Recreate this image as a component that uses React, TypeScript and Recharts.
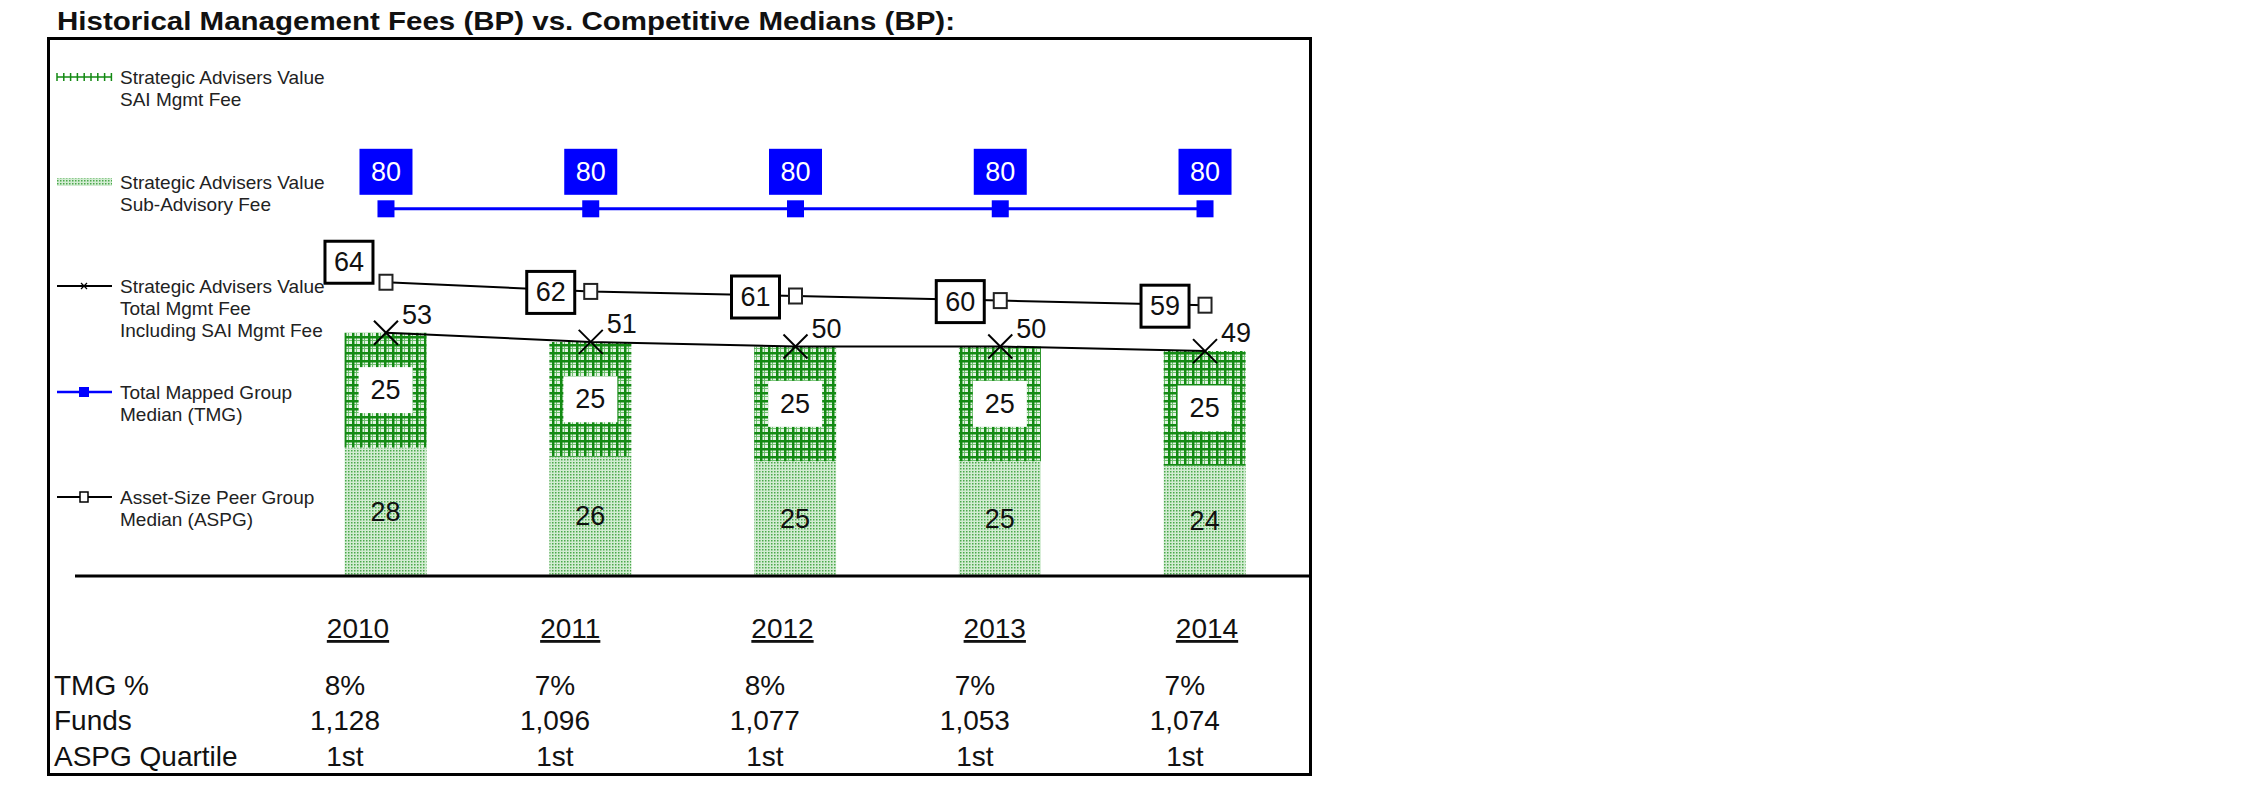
import { Bar, ComposedChart, LabelList, Line, XAxis, YAxis } from "recharts";

const YEARS = ["2010", "2011", "2012", "2013", "2014"];
const SUB_ADVISORY_FEE = [28, 26, 25, 25, 24];
const SAI_MGMT_FEE = [25, 25, 25, 25, 25];
const TOTAL_MGMT_FEE = [53, 51, 50, 50, 49];
const TMG_MEDIAN = [80, 80, 80, 80, 80];
const ASPG_MEDIAN = [64, 62, 61, 60, 59];

const ROW_LABELS = ["TMG %", "Funds", "ASPG Quartile"];
const TMG_PCT = ["8%", "7%", "8%", "7%", "7%"];
const FUNDS = ["1,128", "1,096", "1,077", "1,053", "1,074"];
const ASPG_QUARTILE = ["1st", "1st", "1st", "1st", "1st"];

const LEGEND_TEXT = [
  ["Strategic Advisers Value", "SAI Mgmt Fee"],
  ["Strategic Advisers Value", "Sub-Advisory Fee"],
  ["Strategic Advisers Value", "Total Mgmt Fee", "Including SAI Mgmt Fee"],
  ["Total Mapped Group", "Median (TMG)"],
  ["Asset-Size Peer Group", "Median (ASPG)"],
];

const TITLE = "Historical Management Fees (BP) vs. Competitive Medians (BP):";

const data = YEARS.map((year, i) => ({
  year,
  sub: SUB_ADVISORY_FEE[i],
  sai: SAI_MGMT_FEE[i],
  total: TOTAL_MGMT_FEE[i],
  tmg: TMG_MEDIAN[i],
  aspg: ASPG_MEDIAN[i],
}));

const FONT = '"Liberation Sans", Arial, sans-serif';
const BLUE = "#0000ff";
const GREEN = "#138a13";
const AXIS_Y = 576;
const ROW_OFFSETS = [119, 154, 190];
const LEGEND_BASELINES = [84, 189, 293, 399, 504];

function TableTick(props: any) {
  const { x, y, payload, index } = props;
  const i = index ?? 0;
  const colX = x - 41 + i * 5.2;
  const yearX = x - 28 + i * 7.5;
  const rows = [TMG_PCT, FUNDS, ASPG_QUARTILE];
  return (
    <g fontFamily={FONT} fontSize={28} fill="#111">
      <text x={yearX} y={y + 62} textAnchor="middle" style={{ textDecoration: "underline" }}>
        {payload.value}
      </text>
      {rows.map((row, r) => (
        <text key={r} x={colX} y={y + ROW_OFFSETS[r]} textAnchor="middle">
          {row[i]}
        </text>
      ))}
    </g>
  );
}

function SaiLabel(props: any) {
  const { x, y, width, height, value } = props;
  const cx = x + width / 2;
  const cy = y + height / 2;
  return (
    <g>
      <rect x={cx - 27} y={cy - 23} width={54} height={46} fill="#fff" />
      <text x={cx} y={cy} textAnchor="middle" dominantBaseline="central" fontFamily={FONT} fontSize={27} fill="#111">
        {value}
      </text>
    </g>
  );
}

function SubLabel(props: any) {
  const { x, y, width, height, value } = props;
  return (
    <text x={x + width / 2} y={y + height / 2} textAnchor="middle" dominantBaseline="central" fontFamily={FONT} fontSize={27} fill="#111">
      {value}
    </text>
  );
}

function TmgLabel(props: any) {
  const { x, y, value } = props;
  const cy = y - 37;
  return (
    <g>
      <rect x={x - 26.5} y={cy - 23} width={53} height={46} fill={BLUE} />
      <text x={x} y={cy} textAnchor="middle" dominantBaseline="central" fontFamily={FONT} fontSize={27} fill="#fff">
        {value}
      </text>
    </g>
  );
}

function AspgLabel(props: any) {
  const { x, y, value, index } = props;
  // first box is pushed up-left in the original, the rest sit beside the marker
  const cx = index === 0 ? x - 37 : x - 40;
  const cy = index === 0 ? y - 20 : y + 1;
  return (
    <g>
      <rect x={cx - 24} y={cy - 21} width={48} height={42} fill="#fff" stroke="#000" strokeWidth={3} />
      <text x={cx} y={cy} textAnchor="middle" dominantBaseline="central" fontFamily={FONT} fontSize={27} fill="#111">
        {value}
      </text>
    </g>
  );
}

function TotalLabel(props: any) {
  const { x, y, value } = props;
  return (
    <text x={x + 16} y={y - 9} fontFamily={FONT} fontSize={27} fill="#111">
      {value}
    </text>
  );
}

const tmgDot = (p: any) => (
  <rect key={`tmg-${p.index}`} x={p.cx - 8.5} y={p.cy - 8.5} width={17} height={17} fill={BLUE} />
);

const aspgDot = (p: any) => (
  <rect key={`aspg-${p.index}`} x={p.cx - 6.5} y={p.cy - 7.5} width={13} height={15} fill="#fff" stroke="#222" strokeWidth={2} />
);

const totalDot = (p: any) => (
  <g key={`tot-${p.index}`} stroke="#000" strokeWidth={2}>
    <line x1={p.cx - 12} y1={p.cy - 12} x2={p.cx + 12} y2={p.cy + 12} />
    <line x1={p.cx - 12} y1={p.cy + 12} x2={p.cx + 12} y2={p.cy - 12} />
  </g>
);

function LegendIcon({ kind, y }: { kind: number; y: number }) {
  const x1 = 57;
  const x2 = 112;
  const mid = 84;
  if (kind === 0) {
    const ticks = Array.from({ length: 9 }, (_, k) => x1 + k * 6.8);
    return (
      <g stroke={GREEN} strokeWidth={1.5}>
        <line x1={x1} y1={y} x2={x2} y2={y} />
        {ticks.map((t) => (
          <line key={t} x1={t} y1={y - 4} x2={t} y2={y + 4} />
        ))}
      </g>
    );
  }
  if (kind === 1) return <rect x={x1} y={y - 4} width={x2 - x1} height={8} fill="url(#subPattern)" />;
  if (kind === 2)
    return (
      <g stroke="#000" strokeWidth={2}>
        <line x1={x1} y1={y} x2={x2} y2={y} />
        <line x1={mid - 3} y1={y - 3} x2={mid + 3} y2={y + 3} strokeWidth={1.2} />
        <line x1={mid - 3} y1={y + 3} x2={mid + 3} y2={y - 3} strokeWidth={1.2} />
      </g>
    );
  if (kind === 3)
    return (
      <g>
        <line x1={x1} y1={y} x2={x2} y2={y} stroke={BLUE} strokeWidth={2.5} />
        <rect x={mid - 5} y={y - 5} width={10} height={10} fill={BLUE} />
      </g>
    );
  return (
    <g>
      <line x1={x1} y1={y} x2={x2} y2={y} stroke="#000" strokeWidth={2} />
      <rect x={mid - 4} y={y - 5} width={8} height={10} fill="#fff" stroke="#000" strokeWidth={1.5} />
    </g>
  );
}

export default function App() {
  return (
    <div style={{ position: "absolute", left: 0, top: 0, width: 2251, height: 798, background: "#fff" }}>
      <svg width={2251} height={798} style={{ position: "absolute", left: 0, top: 0 }}>
        <defs>
          <pattern id="saiPattern" width={8} height={8} patternUnits="userSpaceOnUse">
            <rect width={8} height={8} fill="#e4f3e4" />
            <rect x={4} y={0} width={1} height={8} fill="#6cbf6c" />
            <rect x={0} y={4} width={8} height={1} fill="#6cbf6c" />
            <rect x={0} y={0} width={2.5} height={8} fill={GREEN} />
            <rect x={0} y={0} width={8} height={2.5} fill={GREEN} />
          </pattern>
          <pattern id="subPattern" width={3} height={3} patternUnits="userSpaceOnUse">
            <rect width={3} height={3} fill="#d2ecd2" />
            <rect x={0} y={0} width={1.5} height={1.5} fill="#4aa84a" />
          </pattern>
        </defs>
        <text x={57} y={30} fontFamily={FONT} fontWeight="bold" fontSize={25} fill="#111" textLength={898} lengthAdjust="spacingAndGlyphs">
          {TITLE}
        </text>
        <rect x={48.5} y={38.5} width={1262} height={736} fill="none" stroke="#000" strokeWidth={3} />
        {LEGEND_TEXT.map((lines, k) => (
          <g key={k}>
            <LegendIcon kind={k} y={LEGEND_BASELINES[k] - 7} />
            {lines.map((line, j) => (
              <text key={j} x={120} y={LEGEND_BASELINES[k] + j * 22} fontFamily={FONT} fontSize={19} fill="#222">
                {line}
              </text>
            ))}
          </g>
        ))}
        {ROW_LABELS.map((label, r) => (
          <text key={label} x={54} y={AXIS_Y + ROW_OFFSETS[r]} fontFamily={FONT} fontSize={28} fill="#111">
            {label}
          </text>
        ))}
      </svg>
      <div style={{ position: "absolute", left: 0, top: 0 }}>
        <ComposedChart width={1320} height={798} data={data} margin={{ top: 117, right: 11, bottom: 22, left: 75 }}>
          <XAxis
            dataKey="year"
            height={200}
            padding={{ left: 208.6, right: 1.6 }}
            axisLine={{ stroke: "#000", strokeWidth: 3 }}
            tickLine={false}
            tickSize={0}
            tickMargin={0}
            interval={0}
            tick={<TableTick />}
          />
          <YAxis hide width={0} domain={[0, 100]} type="number" />
          <Bar dataKey="sub" stackId="fee" barSize={82} fill="url(#subPattern)" isAnimationActive={false}>
            <LabelList dataKey="sub" content={<SubLabel />} />
          </Bar>
          <Bar dataKey="sai" stackId="fee" barSize={82} fill="url(#saiPattern)" isAnimationActive={false}>
            <LabelList dataKey="sai" content={<SaiLabel />} />
          </Bar>
          <Line dataKey="total" stroke="#000" strokeWidth={2} dot={totalDot} activeDot={false} isAnimationActive={false}>
            <LabelList dataKey="total" content={<TotalLabel />} />
          </Line>
          <Line dataKey="tmg" stroke={BLUE} strokeWidth={3} dot={tmgDot} activeDot={false} isAnimationActive={false}>
            <LabelList dataKey="tmg" content={<TmgLabel />} />
          </Line>
          <Line dataKey="aspg" stroke="#000" strokeWidth={2} dot={aspgDot} activeDot={false} isAnimationActive={false}>
            <LabelList dataKey="aspg" content={<AspgLabel />} />
          </Line>
        </ComposedChart>
      </div>
    </div>
  );
}
